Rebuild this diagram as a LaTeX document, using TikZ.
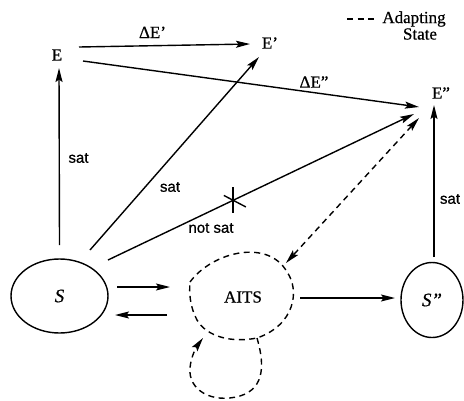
\documentclass[tikz,border=0pt]{standalone}
\usepackage{fontspec}
\setmainfont{Liberation Serif}[FakeBold=0.6]
\setsansfont{Liberation Sans}[FakeBold=0.8]
\usetikzlibrary{arrows.meta,calc,shapes.geometric}
\begin{document}
\begin{tikzpicture}[x=1pt,y=-1pt,
  every node/.style={inner sep=0pt},
  lbl/.style={font=\fontsize{17}{19}\selectfont},
  satlbl/.style={font=\sffamily\fontsize{15}{17}\selectfont},
  state/.style={draw,ellipse,line width=1.4pt,font=\itshape\fontsize{19}{21}\selectfont},
  tip/.style={},
  arr/.style={line width=1.4pt,-{Stealth[length=14pt,width=7pt,inset=2.5pt]}},
  twoarr/.style={line width=1.4pt,{Stealth[length=14pt,width=7pt,inset=2.5pt]}-{Stealth[length=14pt,width=7pt,inset=2.5pt]}},
  dsh/.style={dash pattern=on 6pt off 4.5pt},
  thin/.style={line width=1.4pt}
]
\useasboundingbox (0,0) rectangle (464,400);

% expectation nodes
\node[lbl] (E)  at (57,55)  {E};
\node[lbl] (E1) at (270,43) {E'};
\node[lbl] (E2) at (441,93) {E''};

% system states
\node[state,minimum width=97pt,minimum height=74pt] (S)  at (59.5,296) {S};
\node[state,minimum width=62pt,minimum height=75pt] (S2) at (432,300) {S''};
\node[lbl] (AITS) at (243,297) {AITS};

% legend
\node[lbl] (adapt) at (414,19) {Adapting};
\node[lbl] (state) at (420,34) {State};
\draw[thin,dsh] ($(adapt.west)+(-35,0)$) -- ($(adapt.west)+(-7,0)$);

% differences between expectations
\draw[arr] ($(E)+(22,-8)$) -- node[lbl,above=7pt,pos=0.43] (d1) {ΔE'} ($(E1)+(-20,1)$);
\draw[arr] ($(E)+(26,6)$) -- ($(E2)+(-22,14)$);
\node[lbl] (d2) at (314,82) {ΔE''};

% satisfaction links
\draw[arr] ($(S)+(0,-51)$) -- ($(E)+(2,13)$);
\node[satlbl] (sat1) at (78.5,158) {sat};
\draw[arr] ($(S)+(30.5,-46)$) -- ($(E1)+(-11,14)$);
\node[satlbl] (sat2) at (170,187) {sat};
\draw[arr] ($(S)+(48.5,-36)$) -- coordinate[pos=0.408] (cut) ($(E2)+(-27,21)$);
\node[satlbl] (nsat) at (211,228) {not sat};
\draw[thin] ($(cut)+(0,-13)$) -- ($(cut)+(0,13)$);
\draw[thin] ($(cut)+(-9,-5)$) -- ($(cut)+(13,6.5)$);
\draw[arr] ($(S2)+(2,-43)$) -- ($(E2)+(-7,12)$);
\node[satlbl] (sat3) at (450,199) {sat};

% transitions through the adapting state
\draw[arr] ($(S)+(57.5,-9)$) -- ($(AITS)+(-73,-10)$);
\draw[arr] ($(AITS)+(-76,18)$) -- ($(S)+(55.5,19)$);
\draw[arr] ($(AITS)+(57,1)$) -- ($(S2)+(-37,-2)$);
\draw[twoarr,dsh] ($(E2)+(-22,25)$) -- ($(AITS)+(43,-34)$);

% adapting state outline and its self loop
\draw[thin,dsh] (190,282) .. controls (212,252) and (268,238) .. (287,272)
  .. controls (300,290) and (295,325) .. (257,338)
  .. controls (232,343) and (207,337) .. (197,320)
  .. controls (190,307) and (189,293) .. (190,282);
\draw[arr,dsh] (257,338) .. controls (264,362) and (266,388) .. (240,396)
  .. controls (212,404) and (188,390) .. (190,368)
  .. controls (191,356) and (197,346) .. (203,338);
\end{tikzpicture}
\end{document}
